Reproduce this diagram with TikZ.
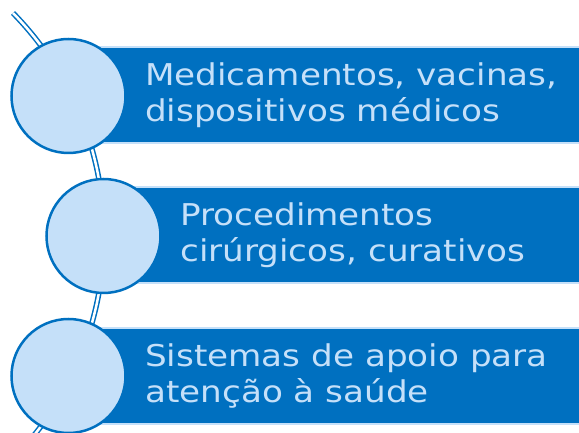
\documentclass[tikz,border=0pt]{standalone}
\usepackage{fontspec}
\setmainfont{DejaVu Sans}[FakeStretch=1.14]
\definecolor{dkblue}{HTML}{0070C0}
\definecolor{ltblue}{HTML}{C5E0F9}
\begin{document}
\begin{tikzpicture}[x=1pt,y=1pt,
  bar/.style={draw=ltblue,line width=2.5pt,fill=dkblue},
  disc/.style={circle,draw=dkblue,line width=2.5pt,fill=ltblue,minimum size=114pt,inner sep=0pt},
  lbl/.style={anchor=west,align=left,text=ltblue,font=\fontsize{30}{36}\selectfont,inner sep=0pt},
  rail/.style={draw=dkblue,line width=1.5pt,double=white,double distance=2.5pt}]
\useasboundingbox (0,0) rectangle (579,433);
\clip (0,0) rectangle (579,433);
% arc (centre at (-214.7,197), radius 318.7)
\coordinate (arcstart) at ({-214.7+318.7*cos(44.4)},{197+318.7*sin(44.4)});
\draw[rail] (arcstart) arc[start angle=44.4,end angle=-45,radius=318.7];
% bars
\draw[bar] (68,290) rectangle (581,386) coordinate (r1);
\draw[bar] (103,150) rectangle (581,246) coordinate (r2);
\draw[bar] (68,9) rectangle (581,105) coordinate (r3);
% circles
\node[disc] (c1) at (68.5,337) {};
\node[disc] (c2) at (103.5,197) {};
\node[disc] (c3) at (68.5,57) {};
% texts
\node[lbl] (t1) at (145,338) {Medicamentos, vacinas,\\dispositivos médicos};
\node[lbl] (t2) at (180,198) {Procedimentos\\cirúrgicos, curativos};
\node[lbl] (t3) at (145,57) {Sistemas de apoio para\\atenção à saúde};
\end{tikzpicture}
\end{document}
